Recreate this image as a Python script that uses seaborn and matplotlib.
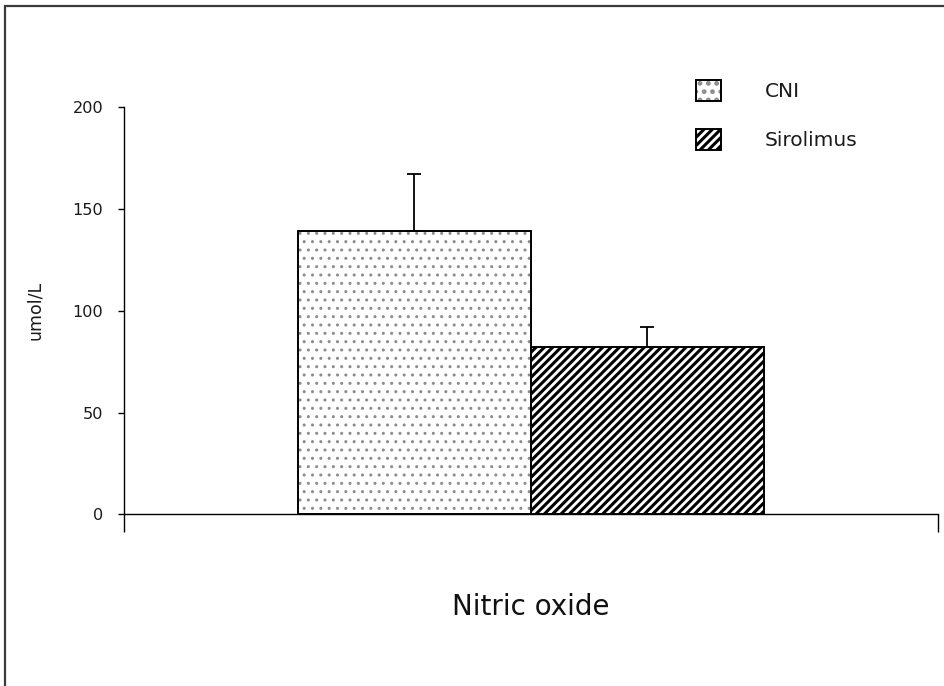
import matplotlib
matplotlib.use("Agg")
import matplotlib.pyplot as plt
from matplotlib.patches import Rectangle
from matplotlib.legend_handler import HandlerTuple
import seaborn as sns
import pandas as pd

# ---- data ----
category = ["Nitric oxide", "Nitric oxide"]
groups = ["CNI", "Sirolimus"]
means = [139, 82]
sd = [28, 10]
y_ticks = [0, 50, 100, 150, 200]
y_label = "umol/L"

sns.set_theme(style="white")
plt.rcParams["font.family"] = ["DejaVu Sans"]
plt.rcParams["hatch.linewidth"] = 2.2

df = pd.DataFrame({"cat": category, "group": groups, "val": means})

fig = plt.figure(figsize=(9.45, 6.86), dpi=100)
ax = fig.add_axes([0.1312, 0.2503, 0.8611, 0.5933])

sns.barplot(data=df, x="cat", y="val", hue="group", errorbar=None,
            width=0.8, ax=ax, legend=False,
            palette=["white", "white"], saturation=1)

hatches = ["..", "////"]
hatch_cols = ["#8c8c8c", "black"]
hatch_lws = [1.0, 2.2]
bars = [p for p in ax.patches if isinstance(p, Rectangle)][:2]
for p, h, hc, hl in zip(bars, hatches, hatch_cols, hatch_lws):
    p.set_hatch(h)
    p.set_facecolor("white")
    p.set_edgecolor(hc)
    p.set_linewidth(0)
    if hasattr(p, "set_hatch_linewidth"):
        p.set_hatch_linewidth(hl)
    ax.add_patch(Rectangle((p.get_x(), p.get_y()), p.get_width(), p.get_height(),
                           fill=False, edgecolor="black", linewidth=1.4, zorder=3))

centers = [p.get_x() + p.get_width() / 2 for p in bars]
ax.errorbar(centers, means, yerr=[[0, 0], sd], fmt="none", ecolor="black",
            elinewidth=1.3, capsize=5, capthick=1.3, zorder=4)

# legend
handles = []
leg_hatches = ["..", "////"]
for h, hc, hl in zip(leg_hatches, hatch_cols, hatch_lws):
    fillp = Rectangle((0, 0), 1, 1, facecolor="white", edgecolor=hc,
                      hatch=h, linewidth=0)
    if hasattr(fillp, "set_hatch_linewidth"):
        fillp.set_hatch_linewidth(hl)
    outline = Rectangle((0, 0), 1, 1, fill=False, edgecolor="black", linewidth=1.4)
    handles.append((fillp, outline))
leg = fig.legend(handles=handles, labels=groups, loc="upper left",
                 bbox_to_anchor=(696 / 945, 1 - 80 / 686),
                 handler_map={tuple: HandlerTuple(ndivide=1, pad=0)},
                 frameon=False, fontsize=14.5, handlelength=1.25, handleheight=1.2,
                 handletextpad=2.15, labelspacing=1.4, borderpad=0, borderaxespad=0)
for t in leg.get_texts():
    t.set_color("#1a1a1a")

ax.set_ylim(0, 200)
ax.set_yticks(y_ticks)
ax.set_xlim(-0.699, 0.699)
ax.set_xticks([-0.699, 0.699])
ax.set_xticklabels(["", ""])
ax.tick_params(axis="x", direction="out", length=13, width=1, color="black", bottom=True)
ax.tick_params(axis="y", direction="out", length=4, width=1, color="black", left=True,
               labelsize=11.6, pad=11, labelcolor="#1a1a1a")
for s in ["top", "right"]:
    ax.spines[s].set_visible(False)
for s in ["left", "bottom"]:
    ax.spines[s].set_color("black")
    ax.spines[s].set_linewidth(1)

ax.set_ylabel(y_label, fontsize=12.5, color="#1a1a1a")
ax.yaxis.set_label_coords(-0.0983, 0.5)
ax.set_xlabel(category[0], fontsize=20, color="#111111")
ax.xaxis.label.set_va("center")
ax.xaxis.set_label_coords(0.5, -0.228)

# outer frame
fig.add_artist(Rectangle((4.5 / 945, -0.2), 1.5, 1.2 - 5.5 / 686,
                         transform=fig.transFigure, fill=False,
                         edgecolor="#3a3a3a", linewidth=1.6))
fig.savefig("out.png", dpi=100)
